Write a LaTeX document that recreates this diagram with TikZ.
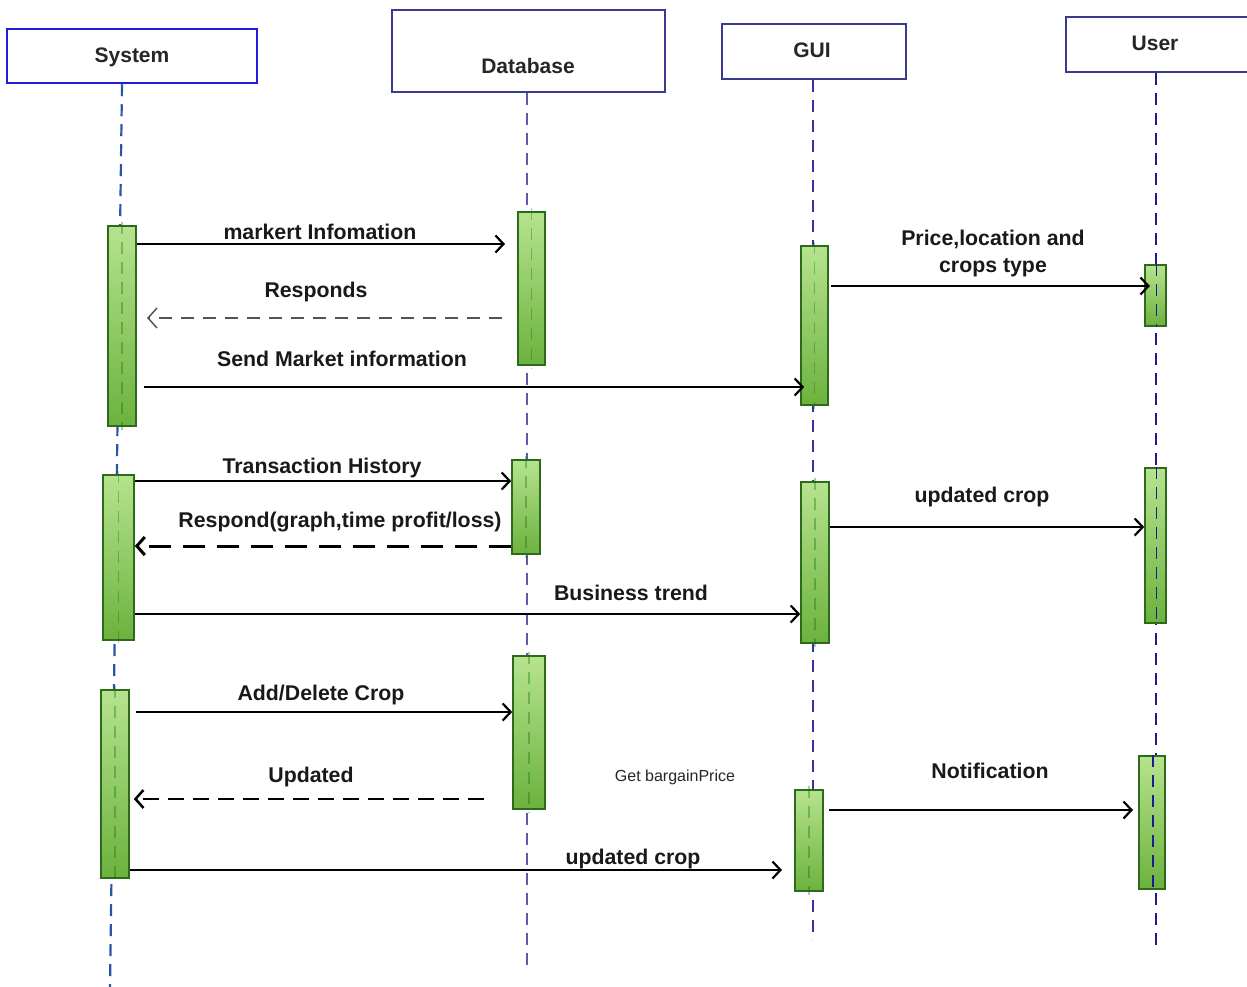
\documentclass[tikz,border=0pt]{standalone}
\usepackage{fontspec}
\setmainfont{Liberation Sans}
\usetikzlibrary{arrows.meta}

\definecolor{sysblue}{HTML}{1E1EDC}
\definecolor{boxnavy}{HTML}{3A3A8E}
\definecolor{lifesys}{HTML}{2A55A5}
\definecolor{lifedb}{HTML}{5A5AAA}
\definecolor{lifegui}{HTML}{3333A0}
\definecolor{lifeuser}{HTML}{1C1C8C}
\definecolor{barlight}{HTML}{B6E38E}
\definecolor{bardark}{HTML}{6CB23E}
\definecolor{baredge}{HTML}{2E6A1C}
\definecolor{replygray}{HTML}{555555}

\tikzset{
  headbox/.style={draw=boxnavy, line width=2pt, fill=white, inner sep=0pt},
  headtext/.style={anchor=base, inner sep=0pt, font=\fontsize{21}{25}\selectfont\bfseries, text=black!85},
  lifeline/.style={line width=2.2pt, dash pattern=on 12pt off 8pt},
  inbar/.style={line width=1.2pt, dash pattern=on 12pt off 8pt, draw=green!45!black, opacity=0.35},
  actbar/.style={draw=baredge, line width=1.6pt, top color=barlight, bottom color=bardark, inner sep=0pt},
  msglabel/.style={anchor=base, inner sep=0pt, font=\fontsize{21.3}{25}\selectfont\bfseries, text=black!90},
  msg/.style={line width=2.2pt, -{Straight Barb[length=8pt,width=17pt,line width=2.2pt]}},
  replythin/.style={line width=1.5pt, draw=replygray, dash pattern=on 13pt off 9pt,
    -{Straight Barb[length=9pt,width=20pt,line width=1.5pt]}},
  replybold/.style={line width=3pt, dash pattern=on 22pt off 12pt,
    -{Straight Barb[length=8pt,width=18pt,line width=3pt]}},
  replymid/.style={line width=2.5pt, dash pattern=on 16pt off 9pt,
    -{Straight Barb[length=8pt,width=18pt,line width=2.5pt]}},
}

\begin{document}
\begin{tikzpicture}[x=1pt, y=-1pt]
\useasboundingbox (0,0) rectangle (1247,987);

% ---- participants ----
\node[headbox, draw=sysblue, line width=2.5pt, minimum width=250pt, minimum height=54pt] (sys) at (132,56) {};
\node[headtext] (sysT) at (132,63) {System};
\node[headbox, minimum width=273pt, minimum height=82pt] (db) at (528.5,51) {};
\node[headtext] (dbT) at (528,74) {Database};
\node[headbox, minimum width=184pt, minimum height=55pt] (gui) at (814,51.5) {};
\node[headtext] (guiT) at (812,58) {GUI};
\node[headbox, minimum width=184pt, minimum height=55pt] (usr) at (1158,44.5) {};
\node[headtext] (usrT) at (1155,51) {User};

% ---- lifelines ----
\coordinate (sysEnd) at (110,990);
\coordinate (dbEnd) at (527,972);
\coordinate (guiEnd) at (813,940);
\coordinate (usrEnd) at (1156,948);
\draw[lifeline, lifesys] ([xshift=-10pt]sys.south) -- (sysEnd);
\draw[lifeline, lifedb] ([xshift=-1.5pt]db.south) -- (dbEnd);
\draw[lifeline, lifegui] ([xshift=-1pt]gui.south) -- (guiEnd);
\draw[lifeline, lifeuser] ([xshift=-2pt]usr.south) -- (usrEnd);

% ---- activation bars ----
\node[actbar, minimum width=28pt, minimum height=200pt] (A1) at (122,326) {};
\node[actbar, minimum width=31pt, minimum height=165pt] (A2) at (118.5,557.5) {};
\node[actbar, minimum width=28pt, minimum height=188pt] (A3) at (115,784) {};
\node[actbar, minimum width=27pt, minimum height=153pt] (D1) at (531.5,288.5) {};
\node[actbar, minimum width=28pt, minimum height=94pt] (D2) at (526,507) {};
\node[actbar, minimum width=32pt, minimum height=153pt] (D3) at (529,732.5) {};
\node[actbar, minimum width=27pt, minimum height=159pt] (G1) at (814.5,325.5) {};
\node[actbar, minimum width=28pt, minimum height=161pt] (G2) at (815,562.5) {};
\node[actbar, minimum width=28pt, minimum height=101pt] (G3) at (809,840.5) {};
\node[actbar, minimum width=21pt, minimum height=61pt] (U1) at (1155.5,295.5) {};
\node[actbar, minimum width=21pt, minimum height=155pt] (U2) at (1155.5,545.5) {};
\node[actbar, minimum width=26pt, minimum height=133pt] (U3) at (1152,822.5) {};

% lifelines seen through the bars
\foreach \b in {A1,A2,A3,D1,D2,D3,G1,G2,G3}
  \draw[inbar] ([yshift=3pt]\b.north) -- ([yshift=-3pt]\b.south);
\foreach \b in {U1,U2,U3}
  \draw[lifeline, lifeuser, line width=1.8pt] ([xshift=1pt]\b.north) -- ([xshift=1pt]\b.south);

% ---- messages: System / Database / GUI ----
\coordinate (m1) at (505,244);
\draw[msg] (A1.east |- m1) -- (m1);
\node[msglabel] (l1) at (320,240) {markert Infomation};

\coordinate (r1s) at (502,318);
\coordinate (r1e) at (147,318);
\draw[replythin] (r1s) -- (r1e);
\node[msglabel] (l2) at (316,297) {Responds};

\coordinate (m3) at (144,387);
\draw[msg] (m3) -- ([xshift=4pt]G1.west |- m3);
\node[msglabel] (l3) at (342,366) {Send Market information};

\coordinate (m5) at (0,481);
\draw[msg] (A2.east |- m5) -- (D2.west |- m5);
\node[msglabel] (l5) at (322,473) {Transaction History};

\coordinate (m6) at (0,546);
\draw[replybold] (D2.west |- m6) -- (A2.east |- m6);
\node[msglabel] (l6) at (340,527) {Respond(graph,time profit/loss)};

\coordinate (m7) at (0,614);
\draw[msg] (A2.east |- m7) -- (G2.west |- m7);
\node[msglabel] (l7) at (631,600) {Business trend};

\coordinate (m9) at (136,712);
\draw[msg] (m9) -- (D3.west |- m9);
\node[msglabel] (l9) at (321,700) {Add/Delete Crop};

\coordinate (m10) at (484,799);
\draw[replymid] (m10) -- ([xshift=4pt]A3.east |- m10);
\node[msglabel] (l10) at (311,782) {Updated};

\coordinate (m11) at (782,870);
\draw[msg] (A3.east |- m11) -- (m11);
\node[msglabel] (l11) at (633,864) {updated crop};

\node[anchor=base, inner sep=0pt, font=\fontsize{16}{19}\selectfont, text=black!85] (gbp) at (675,781) {Get bargainPrice};

% ---- messages: GUI / User ----
\coordinate (m4) at (1150,286);
\draw[msg] ([xshift=2pt]G1.east |- m4) -- (m4);
\node[msglabel] (l4a) at (993,245) {Price,location and};
\node[msglabel] (l4b) at (993,272) {crops type};

\coordinate (m8) at (0,527);
\draw[msg] (G2.east |- m8) -- (U2.west |- m8);
\node[msglabel] (l8) at (982,502) {updated crop};

\coordinate (m12) at (1133,810);
\draw[msg] ([xshift=5pt]G3.east |- m12) -- (m12);
\node[msglabel] (l12) at (990,778) {Notification};

\end{tikzpicture}
\end{document}
